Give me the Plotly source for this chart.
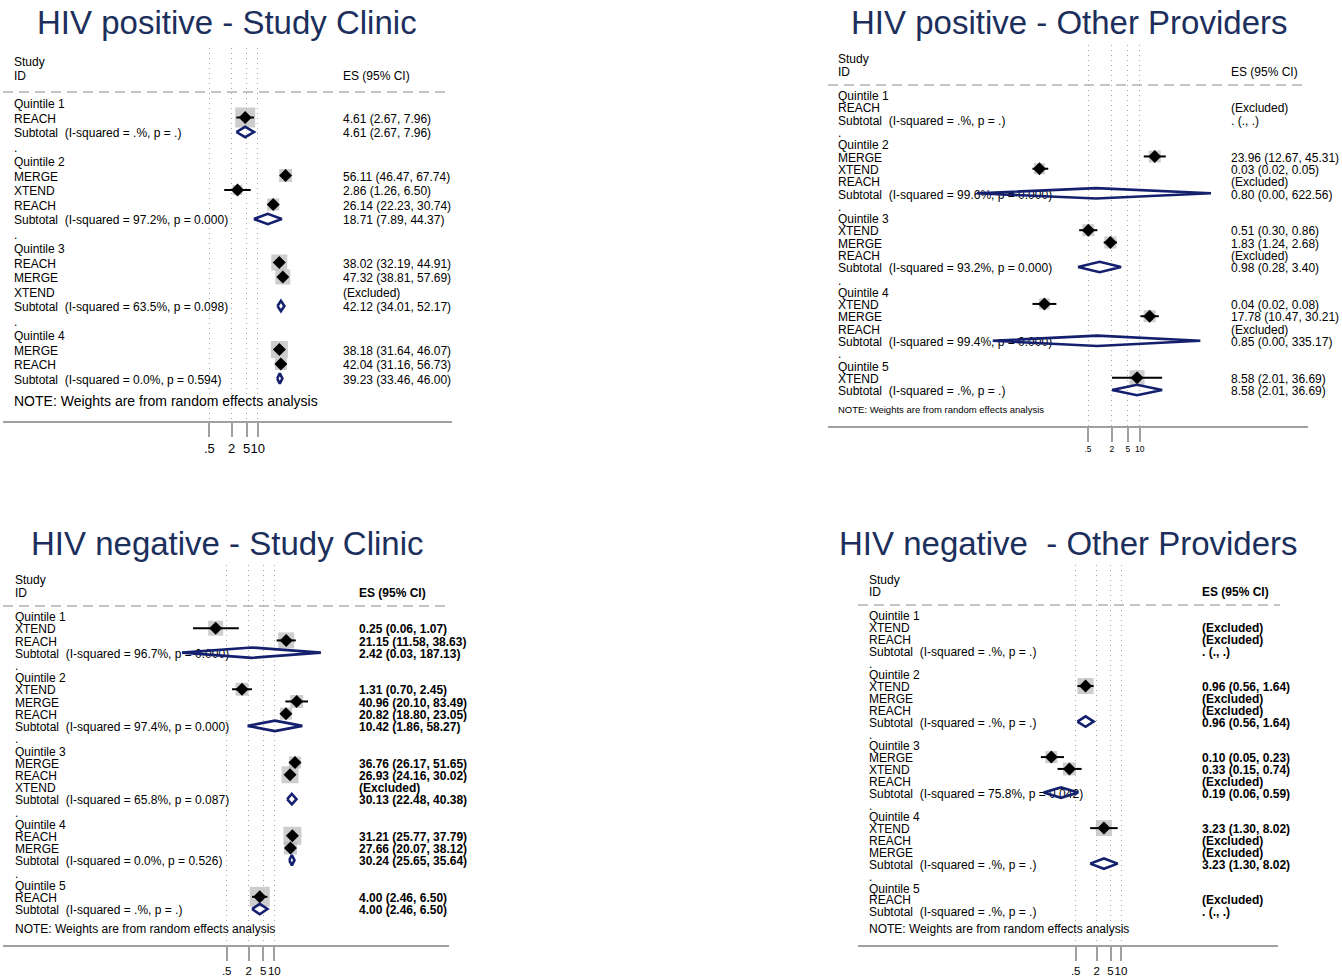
import math
import plotly.graph_objects as go

W, H = 1342, 979
FONT = "Liberation Sans, Arial, Helvetica, sans-serif"
NAVY = "#14206e"
TITLE_COLOR = "#1c2f5c"
GRAY_BOX = "#b8b8b8"
AXIS_GRAY = "#a0a0a0"

TICK_VALUES = [0.5, 2, 5, 10]
TICK_TEXT = [".5", "2", "5", "10"]

# ---------------- HIV positive - Study Clinic ----------------
P1_TITLE = "HIV positive - Study Clinic"
P1_LABELS = ["Quintile 1", "REACH", "Subtotal  (I-squared = .%, p = .)", ".",
             "Quintile 2", "MERGE", "XTEND", "REACH", "Subtotal  (I-squared = 97.2%, p = 0.000)", ".",
             "Quintile 3", "REACH", "MERGE", "XTEND", "Subtotal  (I-squared = 63.5%, p = 0.098)", ".",
             "Quintile 4", "MERGE", "REACH", "Subtotal  (I-squared = 0.0%, p = 0.594)"]
P1_ES = [None, 4.61, 4.61, None,
         None, 56.11, 2.86, 26.14, 18.71, None,
         None, 38.02, 47.32, None, 42.12, None,
         None, 38.18, 42.04, 39.23]
P1_LO = [None, 2.67, 2.67, None,
         None, 46.47, 1.26, 22.23, 7.89, None,
         None, 32.19, 38.81, None, 34.01, None,
         None, 31.64, 31.16, 33.46]
P1_HI = [None, 7.96, 7.96, None,
         None, 67.74, 6.50, 30.74, 44.37, None,
         None, 44.91, 57.69, None, 52.17, None,
         None, 46.07, 56.73, 46.00]
P1_WT = [None, 100, None, None,
         None, 42, 25, 36, None, None,
         None, 64, 56, None, None, None,
         None, 72, 36, None]

# ---------------- HIV positive - Other Providers ----------------
P2_TITLE = "HIV positive - Other Providers"
P2_LABELS = ["Quintile 1", "REACH", "Subtotal  (I-squared = .%, p = .)", ".",
             "Quintile 2", "MERGE", "XTEND", "REACH", "Subtotal  (I-squared = 99.6%, p = 0.000)", ".",
             "Quintile 3", "XTEND", "MERGE", "REACH", "Subtotal  (I-squared = 93.2%, p = 0.000)", ".",
             "Quintile 4", "XTEND", "MERGE", "REACH", "Subtotal  (I-squared = 99.4%, p = 0.000)", ".",
             "Quintile 5", "XTEND", "Subtotal  (I-squared = .%, p = .)"]
P2_ES = [None, None, None, None,
         None, 23.96, 0.03, None, 0.80, None,
         None, 0.51, 1.83, None, 0.98, None,
         None, 0.04, 17.78, None, 0.85, None,
         None, 8.58, 8.58]
P2_LO = [None, None, None, None,
         None, 12.67, 0.02, None, 0.0008, None,
         None, 0.30, 1.24, None, 0.28, None,
         None, 0.02, 10.47, None, 0.002, None,
         None, 2.01, 2.01]
P2_HI = [None, None, None, None,
         None, 45.31, 0.05, None, 622.56, None,
         None, 0.86, 2.68, None, 3.40, None,
         None, 0.08, 30.21, None, 335.17, None,
         None, 36.69, 36.69]
P2_WT = [None, None, None, None,
         None, 36, 30, None, None, None,
         None, 36, 36, None, None, None,
         None, 30, 36, None, None, None,
         None, 56, None]

# ---------------- HIV negative - Study Clinic ----------------
P3_TITLE = "HIV negative - Study Clinic"
P3_LABELS = ["Quintile 1", "XTEND", "REACH", "Subtotal  (I-squared = 96.7%, p = 0.000)", ".",
             "Quintile 2", "XTEND", "MERGE", "REACH", "Subtotal  (I-squared = 97.4%, p = 0.000)", ".",
             "Quintile 3", "MERGE", "REACH", "XTEND", "Subtotal  (I-squared = 65.8%, p = 0.087)", ".",
             "Quintile 4", "REACH", "MERGE", "Subtotal  (I-squared = 0.0%, p = 0.526)", ".",
             "Quintile 5", "REACH", "Subtotal  (I-squared = .%, p = .)"]
P3_ES = [None, 0.25, 21.15, 2.42, None,
         None, 1.31, 40.96, 20.82, 10.42, None,
         None, 36.76, 26.93, None, 30.13, None,
         None, 31.21, 27.66, 30.24, None,
         None, 4.00, 4.00]
P3_LO = [None, 0.06, 11.58, 0.03, None,
         None, 0.70, 20.10, 18.80, 1.86, None,
         None, 26.17, 24.16, None, 22.48, None,
         None, 25.77, 20.07, 25.65, None,
         None, 2.46, 2.46]
P3_HI = [None, 1.07, 38.63, 187.13, None,
         None, 2.45, 83.49, 23.05, 58.27, None,
         None, 51.65, 30.02, None, 40.38, None,
         None, 37.79, 38.12, 35.64, None,
         None, 6.50, 6.50]
P3_WT = [None, 56, 64, None, None,
         None, 42, 42, 36, None, None,
         None, 36, 72, None, None, None,
         None, 81, 42, None, None,
         None, 100, None]

# ---------------- HIV negative - Other Providers ----------------
P4_TITLE = "HIV negative  - Other Providers"
P4_LABELS = ["Quintile 1", "XTEND", "REACH", "Subtotal  (I-squared = .%, p = .)", ".",
             "Quintile 2", "XTEND", "MERGE", "REACH", "Subtotal  (I-squared = .%, p = .)", ".",
             "Quintile 3", "MERGE", "XTEND", "REACH", "Subtotal  (I-squared = 75.8%, p = 0.042)", ".",
             "Quintile 4", "XTEND", "REACH", "MERGE", "Subtotal  (I-squared = .%, p = .)", ".",
             "Quintile 5", "REACH", "Subtotal  (I-squared = .%, p = .)"]
P4_ES = [None, None, None, None, None,
         None, 0.96, None, None, 0.96, None,
         None, 0.10, 0.33, None, 0.19, None,
         None, 3.23, None, None, 3.23, None,
         None, None, None]
P4_LO = [None, None, None, None, None,
         None, 0.56, None, None, 0.56, None,
         None, 0.05, 0.15, None, 0.06, None,
         None, 1.30, None, None, 1.30, None,
         None, None, None]
P4_HI = [None, None, None, None, None,
         None, 1.64, None, None, 1.64, None,
         None, 0.23, 0.74, None, 0.59, None,
         None, 8.02, None, None, 8.02, None,
         None, None, None]
P4_WT = [None, None, None, None, None,
         None, 64, None, None, None, None,
         None, 36, 42, None, None, None,
         None, 64, None, None, None, None,
         None, None, None]

NOTE = "NOTE: Weights are from random effects analysis"

# Pixel layout of each panel
GEOM = {
    1: dict(ax_x0=3, ax_x1=452, px_half=209.3, px_ten=257.7, axis_y=421, grid_top=48,
            row0=103, step=14.5, text_x=14, es_x=343, hdr_y=(61, 75), dash_y=92,
            dash_x=(3, 447), note_y=400, note_size=14, title_x=226.5, title_y=22,
            tick_size=13, es_bold=False),
    2: dict(ax_x0=828, ax_x1=1308, px_half=1088, px_ten=1139.7, axis_y=426, grid_top=45,
            row0=95, step=12.29, text_x=838, es_x=1231, hdr_y=(58, 71), dash_y=85,
            dash_x=(828, 1305), note_y=408, note_size=9.5, title_x=1068.5, title_y=22,
            tick_size=8.5, es_bold=False),
    3: dict(ax_x0=3, ax_x1=449, px_half=226.7, px_ten=274.3, axis_y=945, grid_top=565,
            row0=616, step=12.21, text_x=15, es_x=359, hdr_y=(579, 592), dash_y=606,
            dash_x=(3, 447), note_y=928, note_size=12, title_x=227, title_y=543,
            tick_size=11.5, es_bold=True),
    4: dict(ax_x0=858, ax_x1=1278, px_half=1075.7, px_ten=1121, axis_y=945, grid_top=565,
            row0=615, step=11.84, text_x=869, es_x=1202, hdr_y=(579, 591), dash_y=605,
            dash_x=(858, 1280), note_y=928, note_size=12, title_x=1068, title_y=543,
            tick_size=11.5, es_bold=True),
}

PANELS = [
    (1, P1_TITLE, P1_LABELS, P1_ES, P1_LO, P1_HI, P1_WT),
    (2, P2_TITLE, P2_LABELS, P2_ES, P2_LO, P2_HI, P2_WT),
    (3, P3_TITLE, P3_LABELS, P3_ES, P3_LO, P3_HI, P3_WT),
    (4, P4_TITLE, P4_LABELS, P4_ES, P4_LO, P4_HI, P4_WT),
]

TEXT_NUDGE = 2.2  # px, text baseline sits a little lower than the row centre


def es_text(label, es, lo, hi):
    if label.startswith("Quintile") or label == ".":
        return ""
    if es is None:
        return ". (., .)" if label.startswith("Subtotal") else "(Excluded)"
    return f"{es:.2f} ({lo:.2f}, {hi:.2f})"


fig = go.Figure()
layout = dict(width=W, height=H, margin=dict(l=0, r=0, t=0, b=0),
              paper_bgcolor="white", plot_bgcolor="white", showlegend=False,
              shapes=[], annotations=[])

for idx, title, labels, es, lo, hi, wt in PANELS:
    g = GEOM[idx]
    xs = "x" if idx == 1 else f"x{idx}"
    ys = "y" if idx == 1 else f"y{idx}"
    decade = (g["px_ten"] - g["px_half"]) / math.log10(20)
    log_left = math.log10(0.5) - (g["px_half"] - g["ax_x0"]) / decade
    log_right = 1 + (g["ax_x1"] - g["px_ten"]) / decade

    def xdata(px, log_left=log_left, decade=decade, x0=g["ax_x0"]):
        return 10 ** (log_left + (px - x0) / decade)

    def row(py, r0=g["row0"], step=g["step"]):
        return (py - r0) / step

    nudge = TEXT_NUDGE / g["step"]

    layout["xaxis" if idx == 1 else f"xaxis{idx}"] = dict(
        type="log", domain=[g["ax_x0"] / W, g["ax_x1"] / W], range=[log_left, log_right],
        anchor=ys, tickmode="array", tickvals=TICK_VALUES, ticktext=TICK_TEXT, tickangle=0,
        ticks="outside", ticklen=14, tickwidth=2, tickcolor=AXIS_GRAY,
        showline=True, linewidth=2, linecolor=AXIS_GRAY,
        showgrid=True, gridcolor="#a8a8a8", gridwidth=1, griddash="1px,4px",
        tickfont=dict(family=FONT, size=g["tick_size"], color="black"), fixedrange=True)
    layout["yaxis" if idx == 1 else f"yaxis{idx}"] = dict(
        domain=[1 - g["axis_y"] / H, 1 - g["grid_top"] / H],
        range=[row(g["axis_y"]), row(g["grid_top"])], visible=False, anchor=xs,
        fixedrange=True)

    n = len(labels)
    rows = list(range(n))
    trows = [r + nudge for r in rows]
    tx = xdata(g["text_x"])
    ex = xdata(g["es_x"])
    tfont = dict(family=FONT, size=12, color="black")

    # left column labels + headers
    fig.add_trace(go.Scatter(
        x=[tx] * (n + 2), y=trows + [row(g["hdr_y"][0]) + nudge, row(g["hdr_y"][1]) + nudge],
        text=labels + ["Study", "ID"], mode="text", textposition="middle right",
        textfont=tfont, cliponaxis=False, hoverinfo="skip", xaxis=xs, yaxis=ys))
    # estimate column
    es_labels = [es_text(labels[i], es[i], lo[i], hi[i]) for i in rows]
    hdr_es = "ES (95% CI)"
    if g["es_bold"]:
        es_labels = [f"<b>{t}</b>" if t else "" for t in es_labels]
        hdr_es = f"<b>{hdr_es}</b>"
    fig.add_trace(go.Scatter(
        x=[ex] * (n + 1), y=trows + [row(g["hdr_y"][1]) + nudge], text=es_labels + [hdr_es],
        mode="text", textposition="middle right", textfont=tfont, cliponaxis=False,
        hoverinfo="skip", xaxis=xs, yaxis=ys))
    # note
    fig.add_trace(go.Scatter(
        x=[tx], y=[row(g["note_y"]) + nudge], text=[NOTE], mode="text",
        textposition="middle right",
        textfont=dict(family=FONT, size=g["note_size"], color="black"), cliponaxis=False,
        hoverinfo="skip", xaxis=xs, yaxis=ys))

    study_idx = [i for i in rows if es[i] is not None and not labels[i].startswith("Subtotal")]
    sub_idx = [i for i in rows if es[i] is not None and labels[i].startswith("Subtotal")]

    # weight boxes
    fig.add_trace(go.Scatter(
        x=[es[i] for i in study_idx], y=study_idx, mode="markers",
        marker=dict(symbol="square", color=GRAY_BOX,
                    size=[2 * math.sqrt(wt[i]) for i in study_idx], line=dict(width=0)),
        hoverinfo="skip", xaxis=xs, yaxis=ys))
    # confidence intervals
    cx, cy = [], []
    for i in study_idx:
        cx += [lo[i], hi[i], None]
        cy += [i, i, None]
    fig.add_trace(go.Scatter(x=cx, y=cy, mode="lines", line=dict(color="black", width=2),
                             hoverinfo="skip", xaxis=xs, yaxis=ys))
    # point estimates
    fig.add_trace(go.Scatter(
        x=[es[i] for i in study_idx], y=study_idx, mode="markers",
        marker=dict(symbol="diamond", color="black", size=10, line=dict(width=0)),
        hoverinfo="skip", xaxis=xs, yaxis=ys))
    # subtotal diamonds
    h = 5.2 / g["step"]
    dx, dy = [], []
    for i in sub_idx:
        dx += [lo[i], es[i], hi[i], es[i], lo[i], None]
        dy += [i, i - h, i, i + h, i, None]
    fig.add_trace(go.Scatter(x=dx, y=dy, mode="lines", line=dict(color=NAVY, width=2.6),
                             hoverinfo="skip", xaxis=xs, yaxis=ys))

    # dashed header rule
    layout["shapes"].append(dict(
        type="line", xref="paper", yref="paper",
        x0=g["dash_x"][0] / W, x1=g["dash_x"][1] / W,
        y0=1 - g["dash_y"] / H, y1=1 - g["dash_y"] / H,
        line=dict(color="#c4c4c4", width=2, dash="10px,6px"), layer="below"))
    # panel title
    layout["annotations"].append(dict(
        text=title, xref="paper", yref="paper", x=g["title_x"] / W, y=1 - g["title_y"] / H,
        xanchor="center", yanchor="middle", showarrow=False,
        font=dict(family=FONT, size=33, color=TITLE_COLOR)))

fig.update_layout(**layout)
fig.write_html("out.html")
